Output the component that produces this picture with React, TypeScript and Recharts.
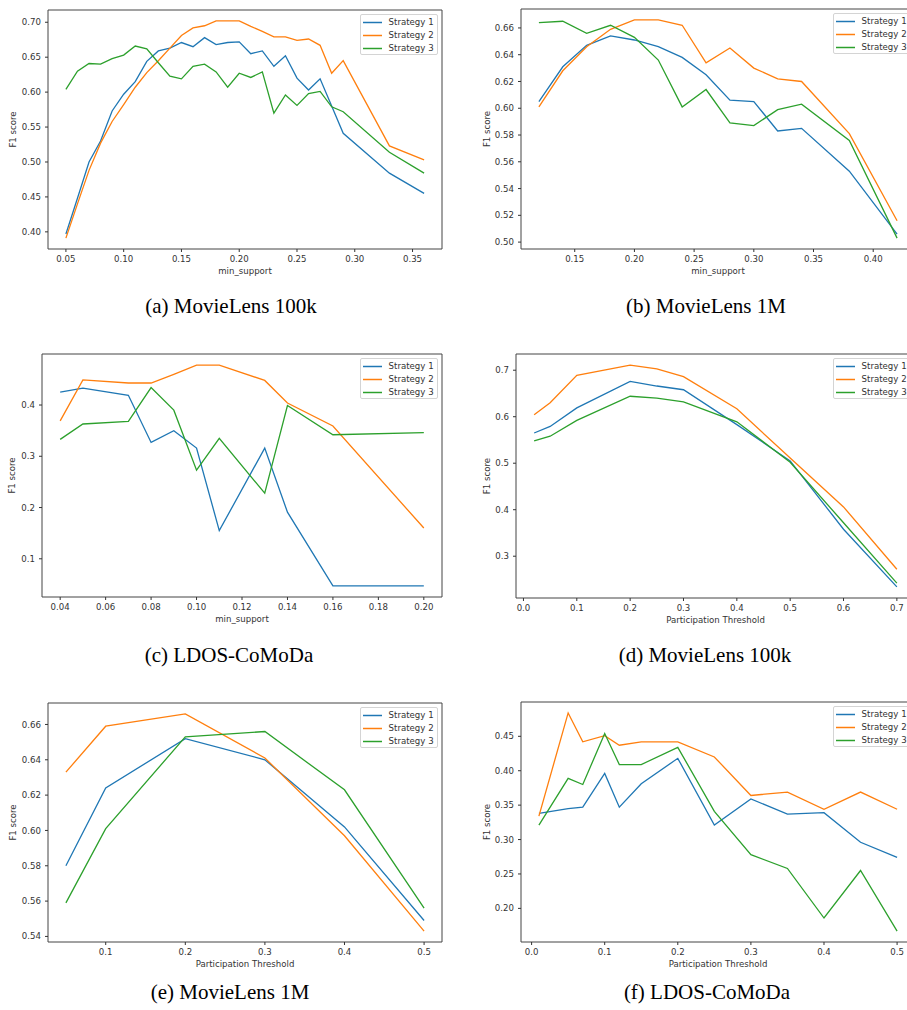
import React from "react";
import { LineChart, Line, XAxis, YAxis, ReferenceArea, Legend } from "recharts";

const BLUE = "#1f77b4";
const ORANGE = "#ff7f0e";
const GREEN = "#2ca02c";
const INK = "#333333";

// (a) MovieLens 100k, min_support
const xA = [0.05, 0.06, 0.07, 0.08, 0.09, 0.1, 0.11, 0.12, 0.13, 0.14, 0.15, 0.16, 0.17, 0.18, 0.19, 0.2, 0.21, 0.22, 0.23, 0.24, 0.25, 0.26, 0.27, 0.28, 0.29, 0.33, 0.36];
const s1A = [0.397, 0.448, 0.5, 0.53, 0.573, 0.597, 0.615, 0.644, 0.659, 0.663, 0.671, 0.665, 0.678, 0.668, 0.671, 0.672, 0.655, 0.659, 0.637, 0.652, 0.62, 0.603, 0.619, 0.58, 0.541, 0.484, 0.455];
const s2A = [0.391, 0.44, 0.488, 0.527, 0.558, 0.582, 0.607, 0.628, 0.645, 0.663, 0.681, 0.692, 0.695, 0.702, 0.702, 0.702, 0.694, 0.687, 0.679, 0.679, 0.674, 0.676, 0.667, 0.627, 0.645, 0.523, 0.503];
const s3A = [0.604, 0.63, 0.641, 0.64, 0.648, 0.653, 0.666, 0.662, 0.642, 0.623, 0.619, 0.637, 0.64, 0.629, 0.607, 0.627, 0.621, 0.629, 0.57, 0.596, 0.581, 0.598, 0.601, 0.579, 0.572, 0.514, 0.484];
const xTicksA = [0.05, 0.1, 0.15, 0.2, 0.25, 0.3, 0.35];
const yTicksA = [0.4, 0.45, 0.5, 0.55, 0.6, 0.65, 0.7];

// (b) MovieLens 1M, min_support
const xB = [0.12, 0.14, 0.16, 0.18, 0.2, 0.22, 0.24, 0.26, 0.28, 0.3, 0.32, 0.34, 0.38, 0.42];
const s1B = [0.605, 0.631, 0.647, 0.654, 0.651, 0.646, 0.638, 0.625, 0.606, 0.605, 0.583, 0.585, 0.553, 0.506];
const s2B = [0.601, 0.628, 0.646, 0.659, 0.666, 0.666, 0.662, 0.634, 0.645, 0.63, 0.622, 0.62, 0.581, 0.516];
const s3B = [0.664, 0.665, 0.656, 0.662, 0.653, 0.636, 0.601, 0.614, 0.589, 0.587, 0.599, 0.603, 0.576, 0.503];
const xTicksB = [0.15, 0.2, 0.25, 0.3, 0.35, 0.4];
const yTicksB = [0.5, 0.52, 0.54, 0.56, 0.58, 0.6, 0.62, 0.64, 0.66];

// (c) LDOS-CoMoDa, min_support
const xC = [0.04, 0.05, 0.07, 0.08, 0.09, 0.1, 0.11, 0.13, 0.14, 0.16, 0.2];
const s1C = [0.425, 0.433, 0.419, 0.327, 0.35, 0.316, 0.155, 0.316, 0.191, 0.047, 0.047];
const s2C = [0.369, 0.449, 0.443, 0.443, 0.46, 0.478, 0.478, 0.448, 0.404, 0.359, 0.16];
const s3C = [0.333, 0.363, 0.368, 0.434, 0.39, 0.273, 0.335, 0.228, 0.399, 0.342, 0.346];
const xTicksC = [0.04, 0.06, 0.08, 0.1, 0.12, 0.14, 0.16, 0.18, 0.2];
const yTicksC = [0.1, 0.2, 0.3, 0.4];

// (d) MovieLens 100k, participation threshold
const xD = [0.02, 0.05, 0.1, 0.2, 0.25, 0.3, 0.4, 0.5, 0.6, 0.7];
const s1D = [0.565, 0.579, 0.619, 0.676, 0.666, 0.658, 0.583, 0.505, 0.358, 0.234];
const s2D = [0.604, 0.63, 0.689, 0.711, 0.703, 0.686, 0.617, 0.511, 0.406, 0.272];
const s3D = [0.548, 0.558, 0.592, 0.644, 0.64, 0.632, 0.589, 0.502, 0.372, 0.242];
const xTicksD = [0, 0.1, 0.2, 0.3, 0.4, 0.5, 0.6, 0.7];
const yTicksD = [0.3, 0.4, 0.5, 0.6, 0.7];

// (e) MovieLens 1M, participation threshold
const xE = [0.05, 0.1, 0.2, 0.3, 0.4, 0.5];
const s1E = [0.58, 0.624, 0.652, 0.64, 0.602, 0.549];
const s2E = [0.633, 0.659, 0.666, 0.641, 0.597, 0.543];
const s3E = [0.559, 0.601, 0.653, 0.656, 0.623, 0.556];
const xTicksE = [0.1, 0.2, 0.3, 0.4, 0.5];
const yTicksE = [0.54, 0.56, 0.58, 0.6, 0.62, 0.64, 0.66];

// (f) LDOS-CoMoDa, participation threshold
const xF = [0.01, 0.05, 0.07, 0.1, 0.12, 0.15, 0.2, 0.25, 0.3, 0.35, 0.4, 0.45, 0.5];
const s1F = [0.338, 0.345, 0.347, 0.396, 0.347, 0.381, 0.418, 0.321, 0.359, 0.337, 0.339, 0.296, 0.274];
const s2F = [0.334, 0.484, 0.442, 0.451, 0.437, 0.442, 0.442, 0.42, 0.364, 0.369, 0.344, 0.369, 0.344];
const s3F = [0.321, 0.389, 0.38, 0.454, 0.409, 0.409, 0.434, 0.341, 0.278, 0.258, 0.186, 0.255, 0.167];
const xTicksF = [0, 0.1, 0.2, 0.3, 0.4, 0.5];
const yTicksF = [0.2, 0.25, 0.3, 0.35, 0.4, 0.45];

const SERIES = [
  { key: "s1", name: "Strategy 1", color: BLUE },
  { key: "s2", name: "Strategy 2", color: ORANGE },
  { key: "s3", name: "Strategy 3", color: GREEN },
];

// matplotlib-style autoscale: 5% margin on each side
function pad(vals: number[]): [number, number] {
  const lo = Math.min(...vals);
  const hi = Math.max(...vals);
  const m = (hi - lo) * 0.05;
  return [lo - m, hi + m];
}

function rows(xs: number[], a: number[], b: number[], c: number[]) {
  return xs.map((x, i) => ({ x, s1: a[i], s2: b[i], s3: c[i] }));
}

const Y_AXIS_W = 48;
const X_AXIS_H = 30;

const PANELS = [
  { id: "a", L: 48, T: 10, R: 442, B: 249, xs: xA, s: [s1A, s2A, s3A], xt: xTicksA, yt: yTicksA, xd: 2, yd: 2, xl: "min_support", ydx: -11 },
  { id: "b", L: 521, T: 9, R: 915, B: 249, xs: xB, s: [s1B, s2B, s3B], xt: xTicksB, yt: yTicksB, xd: 2, yd: 2, xl: "min_support", ydx: -10 },
  { id: "c", L: 42, T: 354, R: 442, B: 597, xs: xC, s: [s1C, s2C, s3C], xt: xTicksC, yt: yTicksC, xd: 2, yd: 1, xl: "min_support", ydx: -6 },
  { id: "d", L: 516, T: 354, R: 915, B: 598, xs: xD, s: [s1D, s2D, s3D], xt: xTicksD, yt: yTicksD, xd: 1, yd: 1, xl: "Participation Threshold", ydx: -5 },
  { id: "e", L: 48, T: 703, R: 442, B: 942, xs: xE, s: [s1E, s2E, s3E], xt: xTicksE, yt: yTicksE, xd: 1, yd: 2, xl: "Participation Threshold", ydx: -11 },
  { id: "f", L: 521, T: 702, R: 915, B: 942, xs: xF, s: [s1F, s2F, s3F], xt: xTicksF, yt: yTicksF, xd: 1, yd: 2, xl: "Participation Threshold", ydx: -10 },
];

const CAPTIONS = [
  { text: "(a) MovieLens 100k", cx: 231, base: 314 },
  { text: "(b) MovieLens 1M", cx: 706, base: 314 },
  { text: "(c) LDOS-CoMoDa", cx: 229, base: 663 },
  { text: "(d) MovieLens 100k", cx: 705, base: 663 },
  { text: "(e) MovieLens 1M", cx: 230, base: 1000 },
  { text: "(f) LDOS-CoMoDa", cx: 707, base: 1000 },
];

function LegendBox(props: any) {
  const items = props.payload || [];
  return (
    <div
      style={{
        width: 78,
        height: 41,
        boxSizing: "border-box",
        border: "1px solid #d4d4d4",
        borderRadius: 2,
        background: "rgba(255,255,255,0.85)",
        paddingTop: 1,
      }}
    >
      {items.map((p: any) => (
        <div key={p.value} style={{ display: "flex", alignItems: "center", height: 13 }}>
          <svg width={19} height={13} style={{ marginLeft: 2, marginRight: 7, flex: "none" }}>
            <line x1={0} x2={19} y1={6.5} y2={6.5} stroke={p.color} strokeWidth={1.5} />
          </svg>
          <span style={{ fontSize: 8.6, color: INK, lineHeight: "13px", whiteSpace: "nowrap" }}>{p.value}</span>
        </div>
      ))}
    </div>
  );
}

function Panel({ p }: { p: (typeof PANELS)[number] }) {
  const data = rows(p.xs, p.s[0], p.s[1], p.s[2]);
  const xDom = pad(p.xs);
  const yDom = pad([...p.s[0], ...p.s[1], ...p.s[2]]);
  const w = Y_AXIS_W + (p.R - p.L) + 5;
  const h = 5 + (p.B - p.T) + X_AXIS_H;
  const tick = { fontSize: 8.6, fill: INK };

  return (
    <div style={{ position: "absolute", left: p.L - Y_AXIS_W, top: p.T - 5 }}>
      <LineChart width={w} height={h} data={data} margin={{ top: 5, right: 5, bottom: 0, left: 0 }}>
        <XAxis
          dataKey="x"
          type="number"
          domain={xDom}
          allowDataOverflow
          ticks={p.xt}
          interval={0}
          tickFormatter={(v: number) => v.toFixed(p.xd)}
          tick={tick}
          tickSize={3}
          tickMargin={4}
          tickLine={{ stroke: INK }}
          axisLine={false}
          height={X_AXIS_H}
          label={{ value: p.xl, position: "insideBottom", offset: 5, fontSize: 8.6, fill: INK }}
        />
        <YAxis
          type="number"
          domain={yDom}
          allowDataOverflow
          ticks={p.yt}
          interval={0}
          tickFormatter={(v: number) => v.toFixed(p.yd)}
          tick={tick}
          tickSize={3}
          tickMargin={4}
          tickLine={{ stroke: INK }}
          axisLine={false}
          width={Y_AXIS_W}
          label={{ value: "F1 score", angle: -90, position: "center", dx: p.ydx, fontSize: 8.6, fill: INK }}
        />
        <ReferenceArea
          x1={xDom[0]}
          x2={xDom[1]}
          y1={yDom[0]}
          y2={yDom[1]}
          fill="none"
          fillOpacity={0}
          stroke="#444"
          strokeWidth={1}
          ifOverflow="visible"
        />
        {SERIES.map((s) => (
          <Line
            key={s.key}
            type="linear"
            dataKey={s.key}
            name={s.name}
            stroke={s.color}
            strokeWidth={1.3}
            dot={false}
            isAnimationActive={false}
          />
        ))}
        <Legend
          layout="vertical"
          align="center"
          verticalAlign="middle"
          content={<LegendBox />}
          wrapperStyle={{ left: w - 5 - 4.4 - 78, top: 5 + 4.3, width: 78, height: 41 }}
        />
      </LineChart>
    </div>
  );
}

export default function App() {
  return (
    <div
      style={{
        position: "fixed",
        left: 0,
        top: 0,
        width: 907,
        height: 1010,
        overflow: "hidden",
        background: "#fff",
        fontFamily: "'DejaVu Sans', sans-serif",
      }}
    >
      {PANELS.map((p) => (
        <Panel key={p.id} p={p} />
      ))}
      {CAPTIONS.map((c) => (
        <div
          key={c.text}
          style={{
            position: "absolute",
            left: c.cx - 150,
            width: 300,
            top: c.base - 17.6,
            textAlign: "center",
            fontFamily: "'Liberation Serif', 'Times New Roman', serif",
            fontSize: 21,
            lineHeight: "21px",
            color: "#000",
            whiteSpace: "nowrap",
          }}
        >
          {c.text}
        </div>
      ))}
    </div>
  );
}
